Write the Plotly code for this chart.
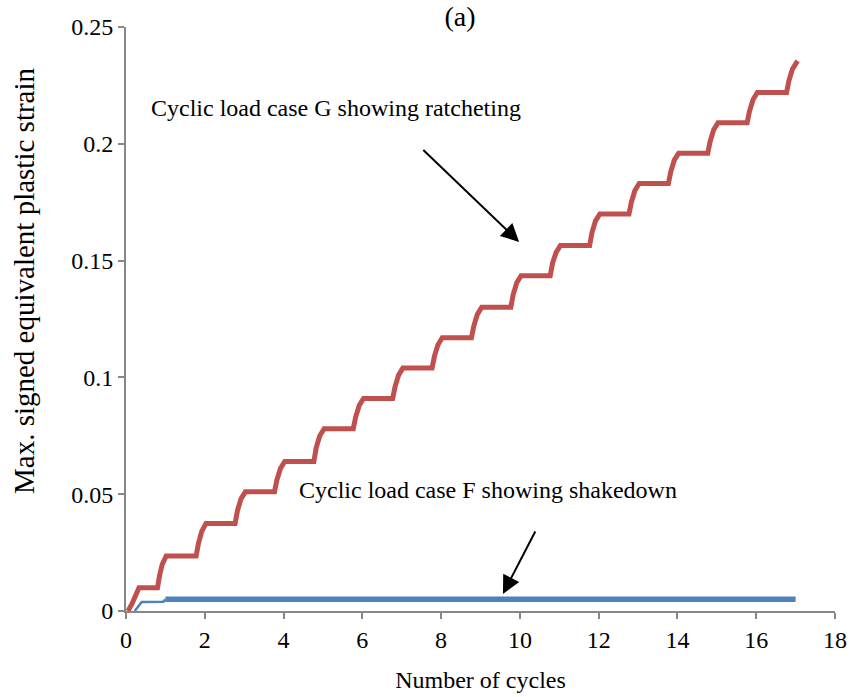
import plotly.graph_objects as go

# Case G: ratcheting, cumulative plastic strain grows every cycle
red_x = [0.05, 0.15, 0.33, 0.80, 0.85, 0.92, 1.02,
         1.78, 1.84, 1.92, 2.03,
         2.77, 2.83, 2.92, 3.03,
         3.77, 3.83, 3.92, 4.03,
         4.77, 4.83, 4.92, 5.03,
         5.77, 5.83, 5.92, 6.03,
         6.77, 6.83, 6.92, 7.03,
         7.77, 7.83, 7.92, 8.03,
         8.77, 8.83, 8.92, 9.03,
         9.77, 9.83, 9.92, 10.03,
         10.77, 10.83, 10.92, 11.03,
         11.77, 11.83, 11.92, 12.03,
         12.77, 12.83, 12.92, 13.03,
         13.77, 13.83, 13.92, 14.03,
         14.77, 14.83, 14.92, 15.03,
         15.77, 15.83, 15.92, 16.03,
         16.77, 16.83, 16.92, 17.05]
red_y = [0.0, 0.003, 0.010, 0.010, 0.015, 0.020, 0.0235,
         0.0235, 0.029, 0.034, 0.0375,
         0.0375, 0.043, 0.048, 0.051,
         0.051, 0.056, 0.061, 0.064,
         0.064, 0.070, 0.075, 0.078,
         0.078, 0.083, 0.088, 0.091,
         0.091, 0.096, 0.101, 0.104,
         0.104, 0.109, 0.114, 0.117,
         0.117, 0.122, 0.127, 0.130,
         0.130, 0.1355, 0.1405, 0.1435,
         0.1435, 0.149, 0.1535, 0.1565,
         0.1565, 0.162, 0.167, 0.170,
         0.170, 0.175, 0.180, 0.183,
         0.183, 0.188, 0.193, 0.196,
         0.196, 0.201, 0.206, 0.209,
         0.209, 0.214, 0.219, 0.222,
         0.222, 0.227, 0.232, 0.2355]

# Case F: shakedown, strain stabilises after the first cycle
blue_x = [0.22, 0.40, 0.95, 1.00, 17.0]
blue_y = [0.0, 0.0039, 0.0040, 0.0050, 0.0050]

x_ticks = [0, 2, 4, 6, 8, 10, 12, 14, 16, 18]
y_ticks = [0, 0.05, 0.1, 0.15, 0.2, 0.25]
y_tick_text = ["0", "0.05", "0.1", "0.15", "0.2", "0.25"]

FONT = "Liberation Serif, Times New Roman, serif"
AXIS_GREY = "#878787"
RED = "#C0504D"
BLUE = "#4F81BD"

fig = go.Figure()
fig.add_trace(go.Scatter(x=blue_x[:4], y=blue_y[:4], mode="lines",
                         line=dict(color=BLUE, width=2.5), showlegend=False))
fig.add_trace(go.Scatter(x=blue_x[3:], y=blue_y[3:], mode="lines",
                         line=dict(color=BLUE, width=5.5), showlegend=False))
fig.add_trace(go.Scatter(x=red_x, y=red_y, mode="lines",
                         line=dict(color=RED, width=5), showlegend=False))

annotations = [
    dict(x=5.34, y=0.2153, xref="x", yref="y", showarrow=False,
         text="Cyclic load case G showing ratcheting",
         font=dict(family=FONT, size=24, color="black")),
    dict(x=9.18, y=0.0518, xref="x", yref="y", showarrow=False,
         text="Cyclic load case F showing shakedown",
         font=dict(family=FONT, size=24, color="black")),
    dict(x=9.98, y=0.158, ax=7.51, ay=0.198, xref="x", yref="y",
         axref="x", ayref="y", text="", showarrow=True,
         arrowhead=2, arrowsize=1.8, arrowwidth=2, arrowcolor="black"),
    dict(x=9.57, y=0.0073, ax=10.41, ay=0.0347, xref="x", yref="y",
         axref="x", ayref="y", text="", showarrow=True,
         arrowhead=2, arrowsize=1.8, arrowwidth=2, arrowcolor="black"),
    # vertical axis title
    dict(x=-102 / 709, y=(611 - 281) / 584, xref="paper", yref="paper",
         xanchor="center", yanchor="middle", showarrow=False, textangle=-90,
         text="Max. signed equivalent plastic strain",
         font=dict(family=FONT, size=29, color="black")),
]

fig.update_layout(
    width=851, height=697,
    margin=dict(l=126, r=16, t=27, b=86),
    paper_bgcolor="white", plot_bgcolor="white",
    font=dict(family=FONT, size=24, color="black"),
    title=dict(text="(a)", x=460 / 851, xanchor="center",
               y=1 - 16 / 697, yanchor="middle", yref="container",
               font=dict(family=FONT, size=28, color="black")),
    annotations=annotations,
    xaxis=dict(range=[0, 18], tickvals=x_ticks, showgrid=False, zeroline=False,
               automargin=False,
               showline=True, linecolor=AXIS_GREY, linewidth=2,
               ticks="outside", ticklen=6, tickwidth=2, tickcolor=AXIS_GREY,
               tickfont=dict(family=FONT, size=24),
               title=dict(text="Number of cycles", standoff=19,
                          font=dict(family=FONT, size=24))),
    yaxis=dict(range=[0, 0.25], tickvals=y_ticks, ticktext=y_tick_text,
               showgrid=False, zeroline=False, automargin=False,
               showline=True, linecolor=AXIS_GREY, linewidth=2,
               ticks="outside", ticklen=6, tickwidth=2, tickcolor=AXIS_GREY,
               tickfont=dict(family=FONT, size=24)),
)

fig.write_html("out.html")
